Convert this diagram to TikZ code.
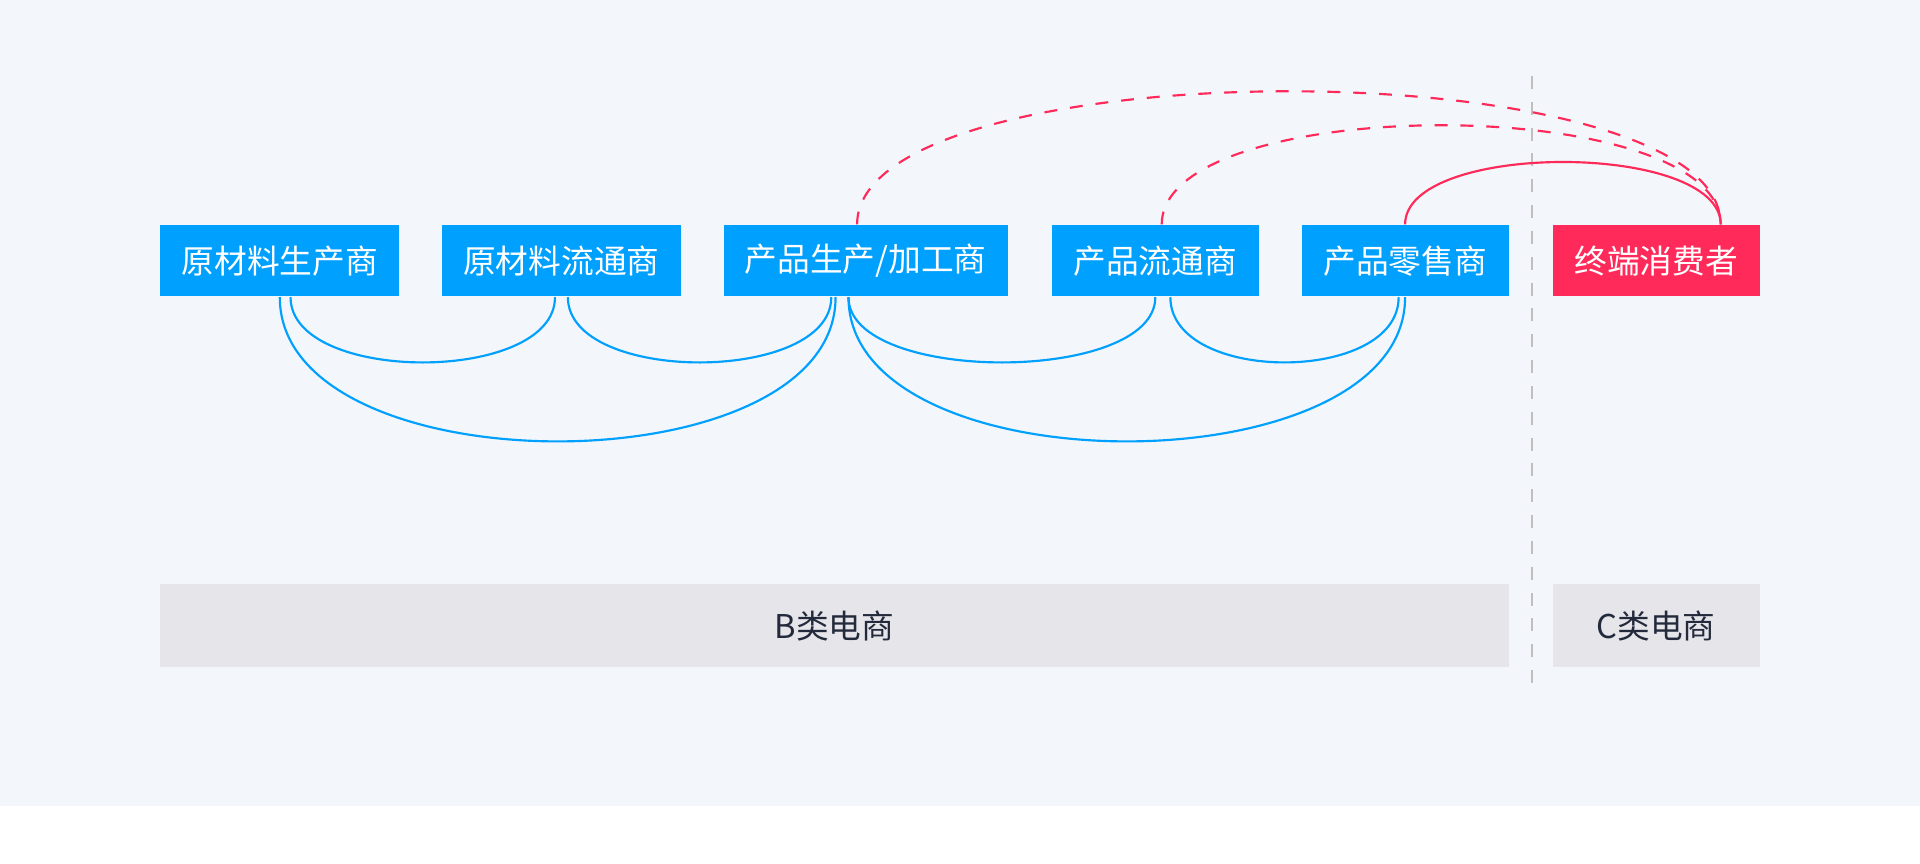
\documentclass[tikz,border=0pt]{standalone}
\usepackage{fontspec}
\setmainfont{Noto Sans CJK SC}
\usetikzlibrary{positioning}
\definecolor{chainblue}{HTML}{00A0FF}
\definecolor{userred}{HTML}{FF2A5A}
\definecolor{bgpale}{HTML}{F3F6FB}
\definecolor{bargray}{HTML}{E5E5EA}
\definecolor{bartext}{HTML}{232A3C}
\begin{document}
\begin{tikzpicture}[x=0.01cm,y=-0.01cm,
  every node/.style = {shape = rectangle, inner sep = 0pt, minimum height = 0.58cm, align = center, text = white, font = \fontsize{7.6pt}{9pt}\selectfont},
  chain box/.style = {fill = chainblue},
  user box/.style = {fill = userred},
  type bar/.style = {fill = bargray, text = bartext, minimum height = 0.68cm},
  blue arc/.style = {chainblue, line width = 0.5pt},
  red arc/.style = {userred, line width = 0.5pt}]
\useasboundingbox (0,0) rectangle (1568,705);
\fill[bgpale] (0,0) rectangle (1568,658);
\draw[gray!50, dashed, line width = 0.6pt] (1251,62) -- (1251,565);

\node[chain box, minimum width = 1.95cm] (raw)    at (228.5,213) {原材料生产商};
\node[chain box, minimum width = 1.95cm] (rawdis) at (458.5,213) {原材料流通商};
\node[chain box, minimum width = 2.32cm] (maker)  at (707,213)   {产品生产/加工商};
\node[chain box, minimum width = 1.69cm] (dist)   at (943.5,213) {产品流通商};
\node[chain box, minimum width = 1.69cm] (retail) at (1147.5,213) {产品零售商};
\node[user box,  minimum width = 1.69cm] (user)   at (1352.5,213) {终端消费者};

\node[type bar, minimum width = 11.01cm] (bbar) at (681.5,511) {B类电商};
\node[type bar, minimum width = 1.69cm]  (cbar) at (1352.5,511) {C类电商};

% links below the chain
\draw[blue arc] ([xshift=2.5]raw.south) .. controls +(0,71) and +(0,71) .. ([xshift=-1.5]rawdis.south);
\draw[blue arc] ([xshift=1.5]rawdis.south) .. controls +(0,71) and +(0,71) .. ([xshift=-8]maker.south);
\draw[blue arc] ([xshift=-4]maker.south) .. controls +(0,71) and +(0,71) .. (dist.south);
\draw[blue arc] ([xshift=3.5]dist.south) .. controls +(0,71) and +(0,71) .. ([xshift=-1.5]retail.south);
\draw[blue arc] (raw.south) .. controls +(0,157) and +(0,157) .. ([xshift=-7]maker.south);
\draw[blue arc] ([xshift=-4]maker.south) .. controls +(0,157) and +(0,157) .. (retail.south);

% links above the chain
\draw[red arc] (retail.north) .. controls +(0,-68) and +(0,-68) .. ([xshift=15]user.north);
\draw[red arc, dashed] ([xshift=1.5]dist.north) .. controls +(0,-108) and +(0,-108) .. ([xshift=15]user.north);
\draw[red arc, dashed] ([xshift=-2]maker.north) .. controls +(0,-145) and +(0,-145) .. ([xshift=15]user.north);
\end{tikzpicture}
\end{document}
